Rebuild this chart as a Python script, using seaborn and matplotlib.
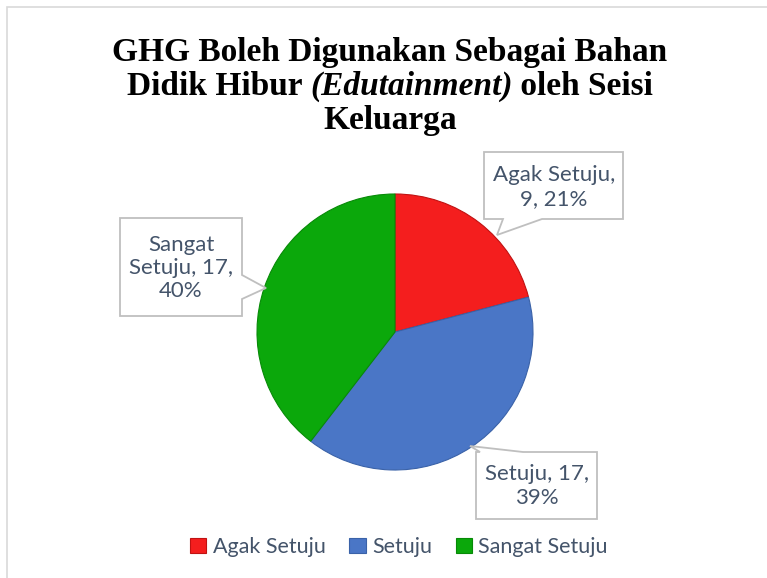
import matplotlib
matplotlib.use("Agg")
import matplotlib.pyplot as plt
from matplotlib.patches import Polygon, Rectangle, Patch
import seaborn as sns

# data
categories = ["Agak Setuju", "Setuju", "Sangat Setuju"]
counts = [9, 17, 17]
pct_labels = [21, 39, 40]
colors = ["#F41E1E", "#4A76C6", "#0BA80B"]
edges = ["#C01212", "#3A62A8", "#078A07"]

W, H = 767, 578
TXT = "#44546A"

sns.set_theme(style="white")
plt.rcParams['font.family'] = ['Lato', 'DejaVu Sans']

fig = plt.figure(figsize=(W / 100, H / 100), dpi=100)


def px(x, y):
    return (x / W, 1 - y / H)


# outer chart frame
fig.patches.append(Rectangle(px(7, 600), (W + 20) / W, 593 / H, transform=fig.transFigure,
                             fill=False, edgecolor="#D9D9D9", linewidth=1.2))

# pie axes: center (395, 332), radius 138
cx, cy, r = 395, 332, 138
ax = fig.add_axes([(cx - r) / W, 1 - (cy + r) / H, 2 * r / W, 2 * r / H])
wedges, _ = ax.pie(counts, colors=colors, startangle=90, counterclock=False,
                   wedgeprops=dict(linewidth=0.8))
for w, ec in zip(wedges, edges):
    w.set_edgecolor(ec)
ax.set_xlim(-1, 1)
ax.set_ylim(-1, 1)
ax.set_aspect("equal")
ax.axis("off")

# title (Times-like, bold, mixed italic)
tfont = dict(family="Liberation Serif", fontweight="bold", fontsize=24, color="black")
fig.text(*px(390, 61), "GHG Boleh Digunakan Sebagai Bahan", ha="center", va="baseline", **tfont)
fig.text(*px(390, 129), "Keluarga", ha="center", va="baseline", **tfont)

renderer = fig.canvas.get_renderer()
parts = [("Didik Hibur ", "normal"), ("(Edutainment)", "italic"), (" oleh Seisi", "normal")]
texts = [fig.text(0, 0, s, fontstyle=st, va="baseline", **tfont) for s, st in parts]
widths = [t.get_window_extent(renderer).width for t in texts]
x0 = 390 - sum(widths) / 2
for t, wd in zip(texts, widths):
    t.set_position(px(x0, 95))
    x0 += wd


# callouts
def callout(verts, center, text):
    fig.patches.append(Polygon([px(*v) for v in verts], closed=True, transform=fig.transFigure,
                               facecolor="white", edgecolor="#BFBFBF", linewidth=1.3))
    fig.text(*px(*center), text, ha="center", va="center", fontsize=16, color=TXT,
             linespacing=1.2)


lab = [f"{c}, {n}, {p}%" for c, n, p in zip(categories, counts, pct_labels)]
callout([(484, 152), (623, 152), (623, 219), (542, 219), (497, 235), (503, 219), (484, 219)],
        (554, 187), lab[0].replace("Setuju, ", "Setuju,\n"))
callout([(476, 452), (480, 452), (470, 446), (523, 452), (597, 452), (597, 519), (476, 519)],
        (537, 486), lab[1].replace("17, ", "17,\n"))
callout([(120, 218), (242, 218), (242, 275), (266, 288), (242, 299), (242, 316), (120, 316)],
        (181, 268), lab[2].replace("Sangat ", "Sangat\n").replace("17, ", "17,\n"))

# legend
handles = [Patch(facecolor=c, edgecolor=e, linewidth=0.8) for c, e in zip(colors, edges)]
fig.legend(handles, categories, loc="center", bbox_to_anchor=px(399, 547), ncol=3,
           frameon=False, fontsize=15.5, labelcolor=TXT, handlelength=0.75, handleheight=0.75,
           handletextpad=0.3, columnspacing=1.1)

fig.savefig("out.png", dpi=100)
